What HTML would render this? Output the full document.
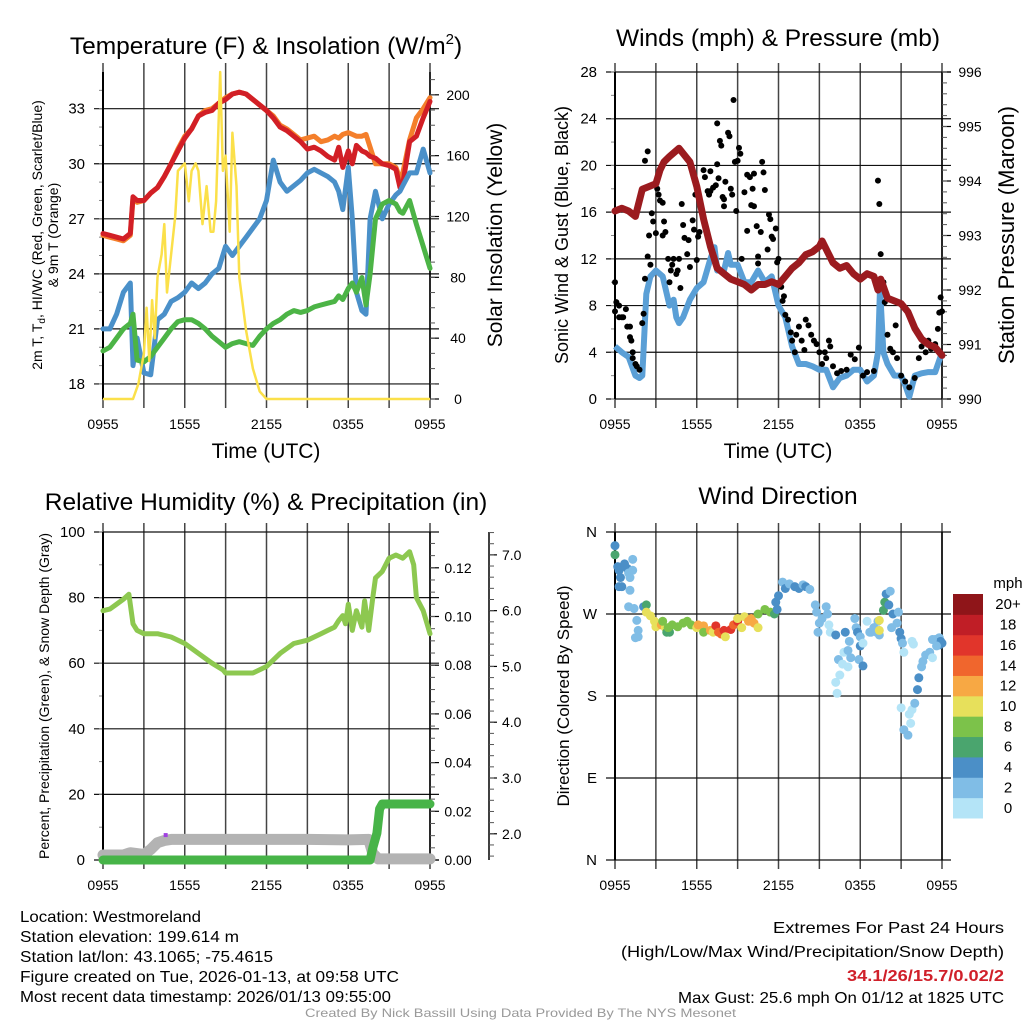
<!DOCTYPE html>
<html><head><meta charset="utf-8"><style>
html,body{margin:0;padding:0;background:#fff;}
svg{display:block;font-family:"Liberation Sans",sans-serif;}
</style></head><body>
<svg id="c" width="1024" height="1024" viewBox="0 0 1024 1024" xmlns="http://www.w3.org/2000/svg"></svg>
<script>
// ---------- DATA ----------
const tempHours=[0,0.5,1,1.5,2,2.2,2.5,3,3.5,4,4.5,5,5.5,6,6.5,7,7.5,8,8.5,9,9.5,10,10.5,11,11.5,12,12.5,13,13.5,14,14.5,15,15.5,16,16.5,17,17.3,17.6,18,18.3,18.6,19,19.3,19.6,20,20.5,21,21.5,21.8,22,22.5,23,23.5,24];
const temp2m=[26.2,26.1,26.0,25.9,26.2,28.2,28.0,28.0,28.4,28.7,29.3,30.0,30.7,31.4,31.9,32.6,32.8,32.9,33.3,33.5,33.8,33.9,33.8,33.5,33.2,32.9,32.5,32.0,31.8,31.5,31.2,30.8,30.9,30.7,30.4,30.2,30.9,29.8,30.7,30.0,31.0,30.7,30.6,30.4,30.3,30.0,29.9,29.7,28.7,28.9,31.2,31.5,32.5,33.4];
const temp9m=[26.1,26.0,25.9,25.8,26.1,28.1,27.9,28.0,28.4,28.7,29.3,30.0,30.8,31.5,31.9,32.6,32.9,33.0,33.3,33.6,33.8,33.9,33.8,33.5,33.2,32.9,32.6,32.1,31.9,31.6,31.3,31.4,31.5,31.2,31.3,31.5,31.4,31.6,31.7,31.6,31.5,31.5,31.6,30.9,30.0,30.0,30.0,29.8,29.2,29.5,31.3,32.5,33.0,33.6];
const windChill=[21.0,21.0,21.8,23.0,23.5,19.0,20.5,18.6,18.5,21.5,21.8,22.5,22.7,23.0,23.5,23.2,23.5,24.0,24.3,25.5,25.0,25.5,26.0,26.5,27.0,28.0,30.2,29.0,28.5,28.8,29.1,29.5,29.7,29.5,29.3,29.0,28.5,27.5,29.8,27.0,23.0,22.0,21.8,27.0,28.5,27.0,27.8,28.3,28.5,28.8,29.5,29.5,30.8,29.5];
const dewPoint=[19.8,20.0,20.5,21.0,21.3,21.8,19.3,19.2,19.5,20.0,20.5,21.0,21.4,21.5,21.5,21.3,21.0,20.6,20.3,20.0,20.2,20.3,20.2,20.1,20.6,21.0,21.3,21.5,21.8,22.0,21.9,22.0,22.2,22.3,22.4,22.5,22.8,22.6,23.2,23.5,23.0,23.8,22.3,24.0,27.0,27.8,28.0,27.8,27.4,27.3,28.0,26.7,25.5,24.3];
const solarHours=[0,2.2,2.6,3,3.2,3.4,3.6,3.8,4,4.3,4.5,4.7,5,5.3,5.5,6,6.3,6.5,6.8,7,7.3,7.6,7.9,8.1,8.3,8.6,8.8,9,9.3,9.5,9.8,10,10.5,11,11.5,12,24];
const solarValues=[0,0,10,30,60,25,65,40,80,95,115,70,95,120,150,155,130,150,155,150,115,140,110,110,130,215,150,160,110,175,140,80,45,20,5,0,0];

const windHours=[0,0.3,0.5,1,1.5,1.8,2,2.3,2.6,3,3.5,4,4.3,4.5,4.7,5,5.5,6,6.5,7,7.3,7.5,8,8.3,8.5,9,9.5,10,10.5,11,11.5,12,12.5,13,13.5,14,14.5,15,15.5,16,16.5,17,17.5,18,18.5,19,19.3,19.45,19.7,20,20.5,21,21.3,21.6,22,22.5,23,23.5,24];
const windSpeed=[4.5,4.2,4,3.6,2,1.8,2,9,10.5,11,10.5,8,8.5,7,6.5,7,8.5,9.5,10,12,13,11,11,12.5,11.5,11.5,10,10,11,10,10.5,8,7,4.5,3,3,2.8,2.5,2.5,1,1.8,2,2.5,2.5,1.5,2,4,9.5,4,3,2,2,1.2,0.2,2,2.2,2.3,2.3,4];
const gustHours=[0,0,0.1,0.3,0.3,0.5,0.6,0.8,0.9,1.1,1.1,1.2,1.3,1.3,1.5,1.6,1.8,2,2.1,2.2,2.2,2.4,2.4,2.5,2.6,2.7,2.8,3,3.1,3.2,3.3,3.5,3.5,3.6,3.7,3.9,4,4.1,4.2,4.3,4.5,4.6,4.7,4.8,4.9,5,5.1,5.3,5.4,5.5,5.7,5.8,5.9,6,6.1,6.2,6.5,6.6,6.8,6.9,7,7,7.2,7.4,7.5,7.5,7.6,7.7,7.8,7.9,8,8,8.1,8.3,8.4,8.5,8.6,8.7,8.8,8.9,9,9.1,9.2,9.3,9.5,9.7,9.7,9.9,10,10.1,10.2,10.2,10.4,10.5,10.5,10.7,10.8,10.9,11,11.2,11.3,11.4,11.5,11.6,11.8,11.9,12,12.1,12.2,12.3,12.4,12.5,12.7,12.9,13,13.2,13.3,13.5,13.7,13.9,14,14.2,14.4,14.6,14.8,15,15.2,15.4,15.5,15.7,15.8,16,16.3,16.6,17,17.3,17.6,17.9,18.2,18.5,19,19.3,19.4,19.5,19.7,19.8,20,20.2,20.4,20.6,20.7,21,21.3,21.6,22,22.3,22.5,22.8,23,23.2,23.5,23.7,23.8,23.9,24];
const gustValues=[7.5,10,8.3,8,7,7,7,7.7,6.2,6.2,5.3,5,4,3.5,3,2.8,2.5,6.5,7.3,10.3,20.4,21.2,12.2,14,11.5,15.9,15.2,14.2,18,17.5,17,14,16.8,15.2,14.3,12,10,11,11.5,12,10.7,11,12,9.5,16.7,14.9,13.8,12.4,13.6,11.3,15.3,14.5,17.5,11.9,13.9,14.3,19.6,19,17.8,17.5,17.8,19.5,18.1,18.3,20.1,23.6,18.9,22.1,21.7,17.3,16.5,17.1,18.6,22.8,22.5,18,17.5,25.6,20.3,16.1,20.4,21.5,21,12,17.7,14.4,19.2,19,16.6,18,19.3,16.5,14.8,12.2,11.6,14.3,20.3,19.4,17.9,12.8,15.8,15.4,13.9,13.7,14.6,11.7,12,10,9.6,8.4,8.8,7.2,6.8,5.7,5,4,5.5,6.2,5,4.2,6.8,6.3,5.5,5,4.7,4,3,4,3.5,5,4.5,2.8,2.2,2.4,2.5,3.8,3.4,4.4,2,2.3,2.4,18.7,16.7,12.4,10,8.3,5.5,4.3,4,6.3,3.5,2,1.5,1,1.8,3.5,4.5,4,5,4.3,4.7,6,7.4,8.7,7.5];
const presHours=[0,0.5,1,1.5,2,2.5,3,3.3,3.6,4,4.7,5.5,6,6.5,7,7.5,8,8.5,9,9.5,10,10.5,11,11.5,12,12.5,13,13.5,14,14.5,15,15.2,15.6,16,16.5,17,17.5,18,18.5,19,19.3,19.5,20,20.5,21,21.5,22,22.5,23,23.5,24];
const presValues=[993.45,993.5,993.45,993.35,993.85,993.9,993.95,994.2,994.35,994.45,994.6,994.35,993.9,993.3,992.8,992.4,992.3,992.2,992.15,992.1,992.0,992.1,992.1,992.15,992.1,992.25,992.4,992.5,992.65,992.7,992.8,992.9,992.7,992.5,992.4,992.45,992.3,992.2,992.3,992.25,992.0,992.2,991.85,991.8,991.75,991.6,991.3,991.1,991.0,990.95,990.8];

const rhHours=[0,0.5,1,1.5,1.9,2.2,2.5,3,4,5,6,7,8,8.8,9,10,11,12,13,14,15,16,16.5,17,17.3,17.6,17.8,18,18.3,18.6,19,19.2,19.5,19.8,20,20.5,21,21.5,22,22.5,22.8,23,23.5,24];
const rhValues=[76,76.5,78,79.5,81,72,70,69,69,68,66,63,60,58,57,57,57,59,63,66,67,69,70,71,73,74.5,72,78,70,76,71,79,70,80,86,88,92,93,92,94,90,80,76,69];
const precipHours=[0,19.6,19.8,20.1,20.3,20.5,24];
const precipValues=[0,0,0.005,0.011,0.021,0.023,0.023];
const snowHours=[0,1.5,2,3,3.5,4,4.5,5,6,10,15,18,19.5,19.8,20.2,24];
const snowValues=[1.62,1.62,1.66,1.63,1.72,1.84,1.88,1.9,1.9,1.9,1.9,1.89,1.9,1.65,1.55,1.55];

const dirHours=[0,0,0.2,0.3,0.4,0.3,0.5,0.7,0.9,1,1.1,1.3,1.3,1.1,1,1.4,1.6,1.7,1.5,1.7,2.1,2.3,2.3,2.6,2.9,3,3.4,3.7,3.5,3.8,4,3.9,4.2,4.6,5,5.3,5.6,6,6.1,6.5,6.5,7,7.2,7.4,7.6,7.8,8,8.1,8.5,8.7,9,9,9.3,9.5,9.8,10,10.2,10.5,10.5,11,11.4,11.7,11.9,11.8,12,12.3,12.5,12.8,13.2,13.5,13.8,14,14.3,14.7,14.8,15,14.9,15.2,15.5,15.6,15.7,15.8,16.2,16.4,16.7,16.8,17.1,16.5,16.2,16.3,16.9,17.2,17.3,17.1,17.6,17.7,17.8,18,18,17.9,18.2,18.2,18.5,18.8,19,19.2,19.4,18.7,19.3,19.4,19.4,19.7,19.8,19.9,20.2,20.1,20.4,20.3,20.8,20.7,20.9,21,21.1,21.2,21.8,21.9,21,21.2,21.5,21.7,21.6,21.8,22,22.2,22.3,22.5,22.6,22.8,23.1,23.3,23.5,23.8,23.8,24,23.9,23.6,23.3];
const dirValues=[345,335,322,318,310,300,300,325,320,315,310,330,318,296,278,276,263,252,244,245,278,280,272,268,262,256,258,255,262,250,250,255,258,256,260,262,258,255,258,257,250,252,250,257,250,248,252,245,253,258,262,265,255,267,262,265,260,255,270,275,272,270,275,283,290,305,298,303,300,298,302,300,297,280,272,260,250,265,278,270,258,250,247,220,215,228,230,203,195,183,250,240,222,212,265,255,250,245,235,220,238,213,262,250,255,250,247,250,262,252,263,274,283,292,295,280,270,255,272,260,250,243,238,228,240,237,167,143,137,150,160,165,172,187,200,212,218,225,228,222,242,244,236,238,240,235,242];
const dirSpeeds=[4,6,4,4,4,4,4,4,4,3,3,2,2,2,2,2,2,2,2,2,4,6,10,10,10,10,12,10,8,6,6,8,8,8,8,8,8,10,12,12,8,12,10,16,14,14,16,10,16,14,16,10,10,10,12,12,12,10,8,8,8,6,4,4,4,2,4,2,4,4,2,4,2,2,2,2,2,2,2,2,0,0,4,2,0,0,2,0,0,0,4,2,2,0,2,2,4,2,4,2,0,4,0,2,2,2,2,2,2,10,10,6,6,4,2,4,4,2,2,2,4,4,2,0,0,0,0,2,2,0,0,0,2,4,4,2,2,2,2,0,2,2,4,4,4,2,2];
const speedBins=[0,2,4,6,8,10,12,14,16,18,20];
const speedLabels=["0","2","4","6","8","10","12","14","16","18","20+"];
const speedColors=["#b4e4f7","#80bde6","#4b8fc7","#4aa56e","#7cc24a","#e7e05b","#f7a844","#f0662d","#e1352b","#c01e26","#8f1519"];

const timeLabels=["0955","1555","2155","0355","0955"];

// ---------- HELPERS ----------
const svg=document.getElementById('c');
const NS="http://www.w3.org/2000/svg";
function mk(tag,attrs,parent){const e=document.createElementNS(NS,tag);for(const k in attrs)e.setAttribute(k,attrs[k]);(parent||svg).appendChild(e);return e;}
function txt(s,x,y,size,anchor,parent,extra){const t=mk('text',Object.assign({x:x,y:y,'font-size':size,'text-anchor':anchor||'middle',fill:'#000'},extra||{}),parent);t.textContent=s;return t;}
function lin(a,b,p0,p1){return v=>p0+(v-a)/(b-a)*(p1-p0);}
function pathFrom(xs,ys,fx,fy){return xs.map((h,i)=>(i?'L':'M')+fx(h).toFixed(1)+','+fy(ys[i]).toFixed(1)).join(' ');}

function frame(g,L,R,T,B,ticksY,fy,labY,minorY){
  const fx=lin(0,24,L,R);
  for(let i=0;i<=8;i++){const x=fx(i*3);
    const v=mk('line',{x1:x,y1:T-9,x2:x,y2:B+9,stroke:'#444','stroke-width':1.5},g);
    }
  ticksY.forEach((t,i)=>{const y=fy(t);
    const h=mk('line',{x1:L-9,y1:y,x2:R+9,y2:y,stroke:'#111','stroke-width':1.2},g);
    
    if(labY){const l=txt(labY[i],L-18,y+5,15,'end',g);}});
  (minorY||[]).forEach(t=>{const y=fy(t);mk('line',{x1:L-4,y1:y,x2:L,y2:y,stroke:'#888','stroke-width':1},g);});
  mk('line',{x1:L,y1:T,x2:L,y2:B,stroke:'#000','stroke-width':2},g);
  mk('line',{x1:R,y1:T,x2:R,y2:B,stroke:'#000','stroke-width':1.5},g);
  timeLabels.forEach((s,i)=>{const l=txt(s,fx(i*6),B+30,14,'middle',g);});
  return fx;
}
function rightAxis(g,R,fy,ticks,labels,minor,lx){
  ticks.forEach((t,i)=>{const y=fy(t);mk('line',{x1:R,y1:y,x2:R+9,y2:y,stroke:'#000','stroke-width':1.2},g);
    const l=txt(labels[i],lx,y+5,14,'middle',g);});
  minor.forEach(t=>{const y=fy(t);mk('line',{x1:R,y1:y,x2:R+5,y2:y,stroke:'#555','stroke-width':1},g);});
}
function rng(a,b,s){const r=[];for(let v=a;v<=b+1e-9;v+=s)r.push(+v.toFixed(4));return r;}

// ---------- PANEL 1: Temperature ----------
(function(){
  const g=mk('g',{});
  const L=103,R=430,T=72,B=399;
  const fy=lin(17.18,35.0,B,T);
  const fx=frame(g,L,R,T,B,[18,21,24,27,30,33],fy,["18","21","24","27","30","33"],rng(18,34,1));
  const fs=lin(0,215,B,T);
  rightAxis(g,R,fs,[0,40,80,120,160,200],["0","40","80","120","160","200"],rng(0,210,10),458);
  const series=[[temp9m,'#f47f2b','nine-meter-temp-line'],[temp2m,'#d21f26','two-meter-temp-line'],[windChill,'#4a90c9','wind-chill-line'],[dewPoint,'#4cb446','dew-point-line']];
  series.forEach(s=>{const p=mk('path',{d:pathFrom(tempHours,s[0],fx,fy),fill:'none',stroke:s[1],'stroke-width':5,'stroke-linejoin':'round','stroke-linecap':'round'},g);
    });
  const sp=mk('path',{d:pathFrom(solarHours,solarValues,fx,fs),fill:'none',stroke:'#fbe04a','stroke-width':2.5,'stroke-linejoin':'round'},g);
  
  let t=txt('',266,54,24.5,'middle',g);t.innerHTML='Temperature (F) &amp; Insolation (W/m<tspan dy="-10" font-size="15">2</tspan><tspan dy="10">)</tspan>';
  
  t=txt('Time (UTC)',266,458,21,'middle',g);
  t=mk('text',{transform:'translate(42,235) rotate(-90)','font-size':14,'text-anchor':'middle'},g);t.innerHTML='2m T, T<tspan dy="3" font-size="10">d</tspan><tspan dy="-3">, HI/WC (Red, Green, Scarlet/Blue)</tspan>';
  
  t=txt('& 9m T (Orange)',0,0,14,'middle',g,{transform:'translate(58,235) rotate(-90)'});
  t=txt('Solar Insolation (Yellow)',0,0,21,'middle',g,{transform:'translate(502,235) rotate(-90)'});
})();

// ---------- PANEL 2: Winds ----------
(function(){
  const g=mk('g',{});
  const L=615,R=942,T=72,B=399;
  const fy=lin(0,28,B,T);
  const fx=frame(g,L,R,T,B,[0,4,8,12,16,20,24,28],fy,["0","4","8","12","16","20","24","28"],rng(0,28,2));
  const fp=lin(990,996,B,T);
  rightAxis(g,R,fp,[990,991,992,993,994,995,996],["990","991","992","993","994","995","996"],rng(990,996,0.2),970);
  const wp=mk('path',{d:pathFrom(windHours,windSpeed,fx,fy),fill:'none',stroke:'#5a9fd6','stroke-width':6,'stroke-linejoin':'round'},g);
  
  gustHours.forEach((h,i)=>{const c=mk('circle',{cx:fx(h),cy:fy(gustValues[i]),r:3,fill:'#000'},g);
    });
  const pp=mk('path',{d:pathFrom(presHours,presValues,fx,fp),fill:'none',stroke:'#9b1b1f','stroke-width':7,'stroke-linejoin':'round','stroke-linecap':'round'},g);
  
  let t=txt('Winds (mph) & Pressure (mb)',778,46,24.5,'middle',g);
  t=txt('Time (UTC)',778,458,21,'middle',g);
  t=txt('Sonic Wind & Gust (Blue, Black)',0,0,18,'middle',g,{transform:'translate(568,235) rotate(-90)'});
  t=txt('Station Pressure (Maroon)',0,0,22,'middle',g,{transform:'translate(1014,235) rotate(-90)'});
})();

// ---------- PANEL 3: RH ----------
(function(){
  const g=mk('g',{});
  const L=103,R=430,T=532,B=860;
  const fy=lin(0,100,B,T);
  const fx=frame(g,L,R,T,B,[0,20,40,60,80,100],fy,["0","20","40","60","80","100"],rng(0,100,10));
  const fpr=lin(0,0.1347,B,T);
  rightAxis(g,R,fpr,[0,0.02,0.04,0.06,0.08,0.10,0.12],["0.00","0.02","0.04","0.06","0.08","0.10","0.12"],rng(0,0.13,0.005),458);
  const fsn=lin(1.53,7.41,B,T);
  mk('line',{x1:489,y1:T,x2:489,y2:B,stroke:'#000','stroke-width':1.5},g);
  ["2.0","3.0","4.0","5.0","6.0","7.0"].forEach((s,i)=>{const y=fsn(2+i);mk('line',{x1:489,y1:y,x2:497,y2:y,stroke:'#000','stroke-width':1.2},g);
    const l=txt(s,502,y+5,14,'start',g);});
  rng(1.6,7.4,0.2).forEach(v=>{const y=fsn(v);mk('line',{x1:489,y1:y,x2:494,y2:y,stroke:'#555','stroke-width':1},g);});
  const sp=mk('path',{d:pathFrom(snowHours,snowValues,fx,fsn),fill:'none',stroke:'#b3b3b3','stroke-width':11,'stroke-linejoin':'round','stroke-linecap':'round'},g);
  
  const pr=mk('path',{d:pathFrom(precipHours,precipValues,fx,fpr),fill:'none',stroke:'#47b448','stroke-width':9,'stroke-linejoin':'round','stroke-linecap':'round'},g);
  
  mk('rect',{x:fx(4.6)-2,y:fy(7.6)-2,width:4,height:4,fill:'#a040e0'},g);
  const rh=mk('path',{d:pathFrom(rhHours,rhValues,fx,fy),fill:'none',stroke:'#8dc850','stroke-width':5,'stroke-linejoin':'round','stroke-linecap':'round'},g);
  
  let t=txt('Relative Humidity (%) & Precipitation (in)',266,510,24.5,'middle',g);
  t=txt('Percent, Precipitation (Green), & Snow Depth (Gray)',0,0,14,'middle',g,{transform:'translate(49,696) rotate(-90)'});
})();

// ---------- PANEL 4: Wind Direction ----------
(function(){
  const g=mk('g',{});
  const L=615,R=942,T=532,B=860;
  const fy=lin(0,360,B,T);
  const fx=frame(g,L,R,T,B,[0,90,180,270,360],fy,["N","E","S","W","N"],[]);
  function colorFor(s){let k=0;speedBins.forEach((b,i)=>{if(s>=b)k=i;});return speedColors[k];}
  dirHours.forEach((h,i)=>{const c=mk('circle',{cx:fx(h),cy:fy(dirValues[i]),r:4.5,fill:colorFor(dirSpeeds[i])},g);
    });
  const lg=mk('g',{},g);
  const bh=(818-594)/11;
  speedColors.forEach((c,i)=>{const y=818-(i+1)*bh;mk('rect',{x:953,y:y,width:30,height:bh+0.5,fill:c},lg);
    const l=txt(speedLabels[i],1008,y+bh/2+5,15,'middle',lg);});
  let t=txt('mph',1008,588,15,'middle',lg);
  t=txt('Wind Direction',778,504,24.5,'middle',g);
  t=txt('Direction (Colored By Speed)',0,0,17,'middle',g,{transform:'translate(569,696) rotate(-90)'});
})();

// ---------- FOOTER ----------
(function(){
  const g=mk('g',{});
  const left=[["Location: Westmoreland",922,181],["Station elevation: 199.614 m",942,219],["Station lat/lon: 43.1065; -75.4615",962,253],["Figure created on Tue, 2026-01-13, at 09:58 UTC",982,379],["Most recent data timestamp: 2026/01/13 09:55:00",1002,371]];
  left.forEach(r=>{const t=txt(r[0],20,r[1],16,'start',g,{textLength:r[2],lengthAdjust:'spacingAndGlyphs'});});
  const right=[["Extremes For Past 24 Hours",933,231,'#000','normal'],["(High/Low/Max Wind/Precipitation/Snow Depth)",957,383,'#000','normal'],["34.1/26/15.7/0.02/2",981,157,'#d0202a','bold'],["Max Gust: 25.6 mph On 01/12 at 1825 UTC",1003,326,'#000','normal']];
  right.forEach(r=>{const t=txt(r[0],1004-r[2],r[1],16,'start',g,{textLength:r[2],lengthAdjust:'spacingAndGlyphs',fill:r[3],'font-weight':r[4]});});
  const c=txt('Created By Nick Bassill Using Data Provided By The NYS Mesonet',305,1017,12,'start',g,{textLength:431,lengthAdjust:'spacingAndGlyphs',fill:'#999'});
  
})();
</script>
</body></html>
